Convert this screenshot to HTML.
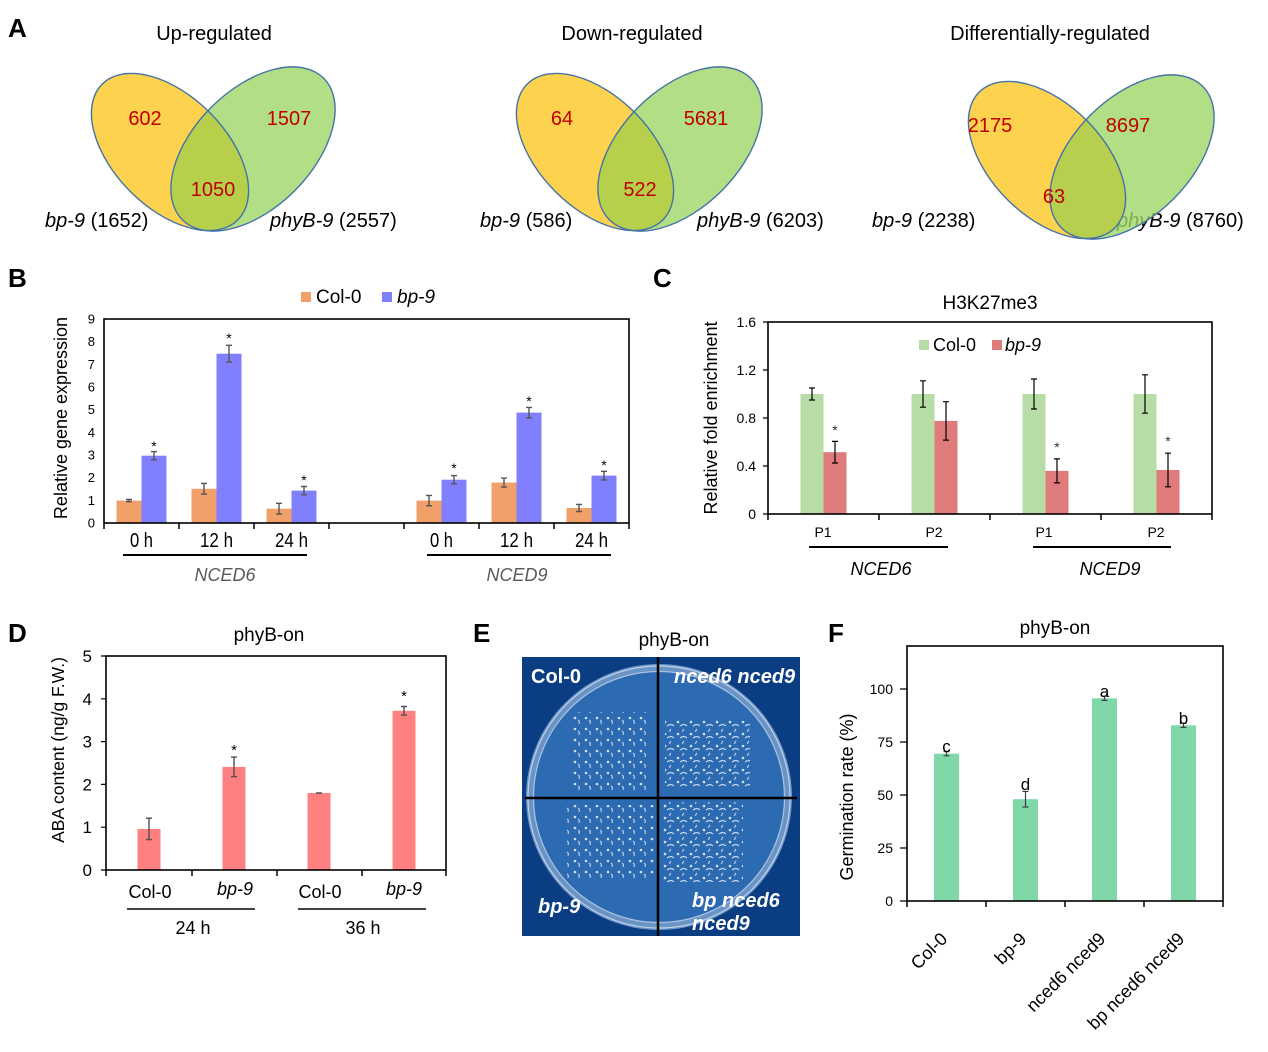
<!DOCTYPE html>
<html><head><meta charset="utf-8"><style>
html,body{margin:0;padding:0;background:#fff}
svg{display:block}
text{font-family:"Liberation Sans",Arial,sans-serif}
</style></head><body>
<svg width="1268" height="1052" viewBox="0 0 1268 1052" xmlns="http://www.w3.org/2000/svg">
<defs>
<clipPath id="cu"><ellipse cx="170" cy="152" rx="96" ry="56" transform="rotate(45 170 152)"/></clipPath>
<clipPath id="cd"><ellipse cx="595" cy="152" rx="96" ry="56" transform="rotate(45 595 152)"/></clipPath>
<clipPath id="cf"><ellipse cx="1047" cy="160" rx="96" ry="56" transform="rotate(45 1047 160)"/></clipPath>
<clipPath id="ph"><rect x="522" y="657" width="278" height="279"/></clipPath>
<pattern id="s1" width="11" height="11" patternUnits="userSpaceOnUse"><circle cx="3" cy="3" r="1.3" fill="#e3ebf4"/><path d="M6 5q2 1 1 4" stroke="#d6e2ee" stroke-width="1.1" fill="none"/></pattern>
<pattern id="s2" width="13" height="12" patternUnits="userSpaceOnUse"><circle cx="2" cy="2" r="1.3" fill="#e3ebf4"/><path d="M4 6q4-3 7 0M8 9q-2 2-1 3" stroke="#d6e2ee" stroke-width="1.1" fill="none"/></pattern>
</defs>
<rect width="1268" height="1052" fill="#fff"/>

<!-- Panel labels -->
<g font-weight="bold" font-size="26" fill="#000">
<text x="8" y="37">A</text>
<text x="8" y="287">B</text>
<text x="653" y="287">C</text>
<text x="8" y="642">D</text>
<text x="473" y="642">E</text>
<text x="828" y="642">F</text>
</g>

<!-- Panel A: Venn diagrams -->
<g font-size="20" text-anchor="middle">
<text x="214" y="40">Up-regulated</text>
<text x="632" y="40">Down-regulated</text>
<text x="1050" y="40">Differentially-regulated</text>
</g>
<!-- Up -->
<ellipse cx="170" cy="152" rx="96" ry="56" transform="rotate(45 170 152)" fill="#FDD24E"/>
<ellipse cx="253" cy="149" rx="100" ry="59" transform="rotate(-45 253 149)" fill="#B2DF86"/>
<g clip-path="url(#cu)"><ellipse cx="253" cy="149" rx="100" ry="59" transform="rotate(-45 253 149)" fill="#B6D04C"/></g>
<ellipse cx="170" cy="152" rx="96" ry="56" transform="rotate(45 170 152)" fill="none" stroke="#4472A8" stroke-width="1.4"/>
<ellipse cx="253" cy="149" rx="100" ry="59" transform="rotate(-45 253 149)" fill="none" stroke="#4472A8" stroke-width="1.4"/>
<!-- Down -->
<ellipse cx="595" cy="152" rx="96" ry="56" transform="rotate(45 595 152)" fill="#FDD24E"/>
<ellipse cx="680" cy="149" rx="100" ry="59" transform="rotate(-45 680 149)" fill="#B2DF86"/>
<g clip-path="url(#cd)"><ellipse cx="680" cy="149" rx="100" ry="59" transform="rotate(-45 680 149)" fill="#B6D04C"/></g>
<ellipse cx="595" cy="152" rx="96" ry="56" transform="rotate(45 595 152)" fill="none" stroke="#4472A8" stroke-width="1.4"/>
<ellipse cx="680" cy="149" rx="100" ry="59" transform="rotate(-45 680 149)" fill="none" stroke="#4472A8" stroke-width="1.4"/>
<!-- Diff -->
<ellipse cx="1047" cy="160" rx="96" ry="56" transform="rotate(45 1047 160)" fill="#FDD24E"/>
<text x="1117" y="227" font-size="20"><tspan font-style="italic">phyB-9</tspan> (8760)</text>
<ellipse cx="1132" cy="157" rx="100" ry="59" transform="rotate(-45 1132 157)" fill="#9FD768" fill-opacity="0.8"/>
<g clip-path="url(#cf)"><ellipse cx="1132" cy="157" rx="100" ry="59" transform="rotate(-45 1132 157)" fill="#B6CE4C" fill-opacity="0.92"/></g>
<ellipse cx="1047" cy="160" rx="96" ry="56" transform="rotate(45 1047 160)" fill="none" stroke="#4472A8" stroke-width="1.4"/>
<ellipse cx="1132" cy="157" rx="100" ry="59" transform="rotate(-45 1132 157)" fill="none" stroke="#4472A8" stroke-width="1.4"/>

<g font-size="20" fill="#C00000" text-anchor="middle">
<text x="145" y="125">602</text>
<text x="289" y="125">1507</text>
<text x="213" y="196">1050</text>
<text x="562" y="125">64</text>
<text x="706" y="125">5681</text>
<text x="640" y="196">522</text>
<text x="990" y="132">2175</text>
<text x="1128" y="132">8697</text>
<text x="1054" y="203">63</text>
</g>
<g font-size="20">
<text x="45" y="227"><tspan font-style="italic">bp-9</tspan> (1652)</text>
<text x="270" y="227"><tspan font-style="italic">phyB-9</tspan> (2557)</text>
<text x="480" y="227"><tspan font-style="italic">bp-9</tspan> (586)</text>
<text x="697" y="227"><tspan font-style="italic">phyB-9</tspan> (6203)</text>
<text x="872" y="227"><tspan font-style="italic">bp-9</tspan> (2238)</text>
</g>

<!-- Panel B -->
<rect x="301" y="292" width="10" height="10" fill="#F2A06A"/>
<text x="316" y="303" font-size="19">Col-0</text>
<rect x="382" y="292" width="10" height="10" fill="#8080FF"/>
<text x="397" y="303" font-size="19" font-style="italic">bp-9</text>
<text transform="translate(67,418) rotate(-90)" text-anchor="middle" font-size="18">Relative gene expression</text>
<g font-size="13" text-anchor="end">
<text x="95" y="527.5">0</text>
<text x="95" y="504.8">1</text>
<text x="95" y="482.2">2</text>
<text x="95" y="459.5">3</text>
<text x="95" y="436.8">4</text>
<text x="95" y="414.2">5</text>
<text x="95" y="391.5">6</text>
<text x="95" y="368.8">7</text>
<text x="95" y="346.2">8</text>
<text x="95" y="323.5">9</text>
</g>
<g fill="#F2A06A">
<rect x="116.5" y="500.6" width="25" height="22.4"/>
<rect x="191.5" y="488.8" width="25" height="34.2"/>
<rect x="266.5" y="508.7" width="25" height="14.3"/>
<rect x="416.5" y="500.6" width="25" height="22.4"/>
<rect x="491.5" y="482.6" width="25" height="40.4"/>
<rect x="566.5" y="508" width="25" height="15"/>
</g>
<g fill="#8080FF">
<rect x="141.5" y="455.7" width="25" height="67.3"/>
<rect x="216.5" y="353.7" width="25" height="169.3"/>
<rect x="291.5" y="490.6" width="25" height="32.4"/>
<rect x="441.5" y="479.7" width="25" height="43.3"/>
<rect x="516.5" y="412.6" width="25" height="110.4"/>
<rect x="591.5" y="475.6" width="25" height="47.4"/>
</g>
<path fill="none" stroke="#555" stroke-width="1.4" d="
M129 499.5V501.7M126 499.5H132M126 501.7H132
M154 451.6V459.8M151 451.6H157M151 459.8H157
M204 483.4V494.2M201 483.4H207M201 494.2H207
M229 345.3V362.1M226 345.3H232M226 362.1H232
M279 503.3V514.1M276 503.3H282M276 514.1H282
M304 486.5V494.7M301 486.5H307M301 494.7H307
M429 495.4V505.8M426 495.4H432M426 505.8H432
M454 475.6V483.8M451 475.6H457M451 483.8H457
M504 478.1V487.1M501 478.1H507M501 487.1H507
M529 407.4V417.8M526 407.4H532M526 417.8H532
M579 504.4V511.6M576 504.4H582M576 511.6H582
M604 471.3V479.9M601 471.3H607M601 479.9H607"/>
<rect x="104" y="319" width="525" height="204" fill="none" stroke="#000" stroke-width="1.6"/>
<path stroke="#000" stroke-width="1.5" d="M104 523V529M179 523V529M254 523V529M329 523V529M404 523V529M479 523V529M554 523V529M629 523V529"/>
<g font-size="14" text-anchor="middle">
<text x="154" y="451">*</text>
<text x="229" y="343">*</text>
<text x="304" y="485">*</text>
<text x="454" y="473">*</text>
<text x="529" y="406">*</text>
<text x="604" y="470">*</text>
</g>
<g font-size="20" text-anchor="middle">
<text x="141.5" y="547" textLength="23" lengthAdjust="spacingAndGlyphs">0 h</text>
<text x="216.5" y="547" textLength="33" lengthAdjust="spacingAndGlyphs">12 h</text>
<text x="291.5" y="547" textLength="33" lengthAdjust="spacingAndGlyphs">24 h</text>
<text x="441.5" y="547" textLength="23" lengthAdjust="spacingAndGlyphs">0 h</text>
<text x="516.5" y="547" textLength="33" lengthAdjust="spacingAndGlyphs">12 h</text>
<text x="591.5" y="547" textLength="33" lengthAdjust="spacingAndGlyphs">24 h</text>
</g>
<path stroke="#000" stroke-width="2" d="M123 555H307M427 555H611"/>
<g font-size="18" font-style="italic" fill="#595959" text-anchor="middle">
<text x="225" y="581">NCED6</text>
<text x="517" y="581">NCED9</text>
</g>

<!-- Panel C -->
<text x="990" y="309" font-size="19" text-anchor="middle">H3K27me3</text>
<text transform="translate(717,418) rotate(-90)" text-anchor="middle" font-size="18">Relative fold enrichment</text>
<g font-size="14" text-anchor="end">
<text x="756" y="327">1.6</text>
<text x="756" y="375">1.2</text>
<text x="756" y="423">0.8</text>
<text x="756" y="471">0.4</text>
<text x="756" y="519">0</text>
</g>
<path stroke="#000" stroke-width="1.2" d="M763 322H768M763 370H768M763 418H768M763 466H768M763 514H768"/>
<g fill="#B8DCA5">
<rect x="800.5" y="394" width="23" height="120"/>
<rect x="911.5" y="394" width="23" height="120"/>
<rect x="1022.5" y="394" width="23" height="120"/>
<rect x="1133.5" y="394" width="23" height="120"/>
</g>
<g fill="#E07B7B">
<rect x="823.5" y="452.2" width="23" height="61.8"/>
<rect x="934.5" y="420.9" width="23" height="93.1"/>
<rect x="1045.5" y="470.9" width="23" height="43.1"/>
<rect x="1156.5" y="470" width="23" height="44"/>
</g>
<path fill="none" stroke="#000" stroke-width="1.2" d="
M812 388V400M809 388H815M809 400H815
M923 380.8V407.2M920 380.8H926M920 407.2H926
M1034 379V409M1031 379H1037M1031 409H1037
M1145 374.8V413.2M1142 374.8H1148M1142 413.2H1148
M835 441.4V463M832 441.4H838M832 463H838
M946 401.7V440.1M943 401.7H949M943 440.1H949
M1057 458.9V482.9M1054 458.9H1060M1054 482.9H1060
M1168 453.2V486.8M1165 453.2H1171M1165 486.8H1171"/>
<rect x="768" y="322" width="444" height="192" fill="none" stroke="#000" stroke-width="1.6"/>
<path stroke="#000" stroke-width="1.5" d="M768 514V520M879 514V520M990 514V520M1101 514V520M1212 514V520"/>
<g font-size="14" text-anchor="middle" fill="#333">
<text x="835" y="435">*</text>
<text x="1057" y="452">*</text>
<text x="1168" y="446">*</text>
</g>
<rect x="919" y="340" width="10" height="10" fill="#B8DCA5"/>
<text x="933" y="351" font-size="18">Col-0</text>
<rect x="992" y="340" width="10" height="10" fill="#E07B7B"/>
<text x="1005" y="351" font-size="18" font-style="italic">bp-9</text>
<g font-size="14" text-anchor="middle">
<text x="823" y="537">P1</text>
<text x="934" y="537">P2</text>
<text x="1044" y="537">P1</text>
<text x="1156" y="537">P2</text>
</g>
<path stroke="#000" stroke-width="2" d="M809 547H948M1033 547H1171"/>
<g font-size="18" font-style="italic" text-anchor="middle">
<text x="881" y="575">NCED6</text>
<text x="1110" y="575">NCED9</text>
</g>

<!-- Panel D -->
<text x="269" y="641" font-size="19" text-anchor="middle">phyB-on</text>
<text transform="translate(64,750) rotate(-90)" text-anchor="middle" font-size="17.5">ABA content (ng/g F.W.)</text>
<g font-size="17" text-anchor="end">
<text x="92" y="876">0</text>
<text x="92" y="833.2">1</text>
<text x="92" y="790.4">2</text>
<text x="92" y="747.6">3</text>
<text x="92" y="704.8">4</text>
<text x="92" y="662">5</text>
</g>
<path stroke="#000" stroke-width="1.2" d="M101 870H106M101 827.2H106M101 784.4H106M101 741.6H106M101 698.8H106M101 656H106"/>
<g fill="#FF8080">
<rect x="137.5" y="828.9" width="23" height="41.1"/>
<rect x="222.5" y="766.9" width="23" height="103.1"/>
<rect x="307.5" y="793" width="23" height="77"/>
<rect x="392.5" y="710.8" width="23" height="159.2"/>
</g>
<path fill="none" stroke="#505050" stroke-width="1.4" d="
M149 818.2V839.6M146 818.2H152M146 839.6H152
M234 757.1V776.7M231 757.1H237M231 776.7H237
M316 793H322
M404 706.5V715.1M401 706.5H407M401 715.1H407"/>
<rect x="106" y="656" width="340" height="214" fill="none" stroke="#000" stroke-width="1.6"/>
<path stroke="#000" stroke-width="1.5" d="M106 870V876M192 870V876M277 870V876M362 870V876M446 870V876"/>
<g font-size="15" text-anchor="middle">
<text x="234" y="755">*</text>
<text x="404" y="701">*</text>
</g>
<g font-size="18" text-anchor="middle">
<text x="150" y="898">Col-0</text>
<text x="235" y="895" font-style="italic">bp-9</text>
<text x="320" y="898">Col-0</text>
<text x="404" y="895" font-style="italic">bp-9</text>
<text x="193" y="934">24 h</text>
<text x="363" y="934">36 h</text>
</g>
<path stroke="#444" stroke-width="2" d="M127 909H255M298 909H426"/>

<!-- Panel E -->
<text x="674" y="646" font-size="19" text-anchor="middle">phyB-on</text>
<g clip-path="url(#ph)">
<rect x="522" y="657" width="278" height="279" fill="#0A3D82"/>
<circle cx="659" cy="797" r="133" fill="#6A94C6"/>
<circle cx="659" cy="797" r="131" fill="none" stroke="#cfdcec" stroke-width="1.2" opacity="0.85"/>
<circle cx="659" cy="797" r="125" fill="#2C6AB2"/>
<circle cx="659" cy="797" r="125.5" fill="none" stroke="#a9c3e0" stroke-width="1.2"/>
<rect x="572" y="712" width="78" height="78" fill="url(#s1)" opacity="0.9"/>
<rect x="665" y="720" width="85" height="68" fill="url(#s2)" opacity="0.9"/>
<rect x="567" y="805" width="88" height="73" fill="url(#s1)" opacity="0.9"/>
<rect x="663" y="802" width="80" height="80" fill="url(#s2)" opacity="0.9"/>
<path stroke="#000" stroke-width="2.5" d="M658 657V936M525 798H797"/>
<g fill="#fff" font-weight="bold" font-size="20">
<text x="531" y="683">Col-0</text>
<text x="674" y="683" font-style="italic">nced6 nced9</text>
<text x="538" y="913" font-style="italic">bp-9</text>
<text x="692" y="907" font-style="italic">bp nced6</text>
<text x="692" y="930" font-style="italic">nced9</text>
</g>
</g>

<!-- Panel F -->
<text x="1055" y="634" font-size="19" text-anchor="middle">phyB-on</text>
<text transform="translate(853,797) rotate(-90)" text-anchor="middle" font-size="18">Germination rate (%)</text>
<g font-size="14" text-anchor="end">
<text x="893" y="694">100</text>
<text x="893" y="747">75</text>
<text x="893" y="800">50</text>
<text x="893" y="853">25</text>
<text x="893" y="906">0</text>
</g>
<path stroke="#000" stroke-width="1.2" d="M900 689H907M900 742H907M900 795H907M900 848H907M900 901H907"/>
<g fill="#80D8A8">
<rect x="934" y="753.7" width="25" height="147.3"/>
<rect x="1013" y="799.2" width="25" height="101.8"/>
<rect x="1092" y="698.3" width="25" height="202.7"/>
<rect x="1171" y="725.3" width="25" height="175.7"/>
</g>
<path fill="none" stroke="#404040" stroke-width="1.2" d="
M946.5 751.6V755.8M943.5 751.6H949.5M943.5 755.8H949.5
M1025.5 791.4V807M1022.5 791.4H1028.5M1022.5 807H1028.5
M1104.5 696.2V700.4M1101.5 696.2H1107.5M1101.5 700.4H1107.5
M1183.5 723.2V727.4M1180.5 723.2H1186.5M1180.5 727.4H1186.5"/>
<rect x="907" y="646" width="316" height="255" fill="none" stroke="#000" stroke-width="1.6"/>
<path stroke="#000" stroke-width="1.5" d="M907 901V907M986 901V907M1065 901V907M1144 901V907M1223 901V907"/>
<g font-size="17" text-anchor="middle">
<text x="946.5" y="752">c</text>
<text x="1025.5" y="790">d</text>
<text x="1104.5" y="697">a</text>
<text x="1183.5" y="724">b</text>
</g>
<g font-size="18" text-anchor="end">
<text transform="translate(948.5,940) rotate(-45)">Col-0</text>
<text transform="translate(1027.5,940) rotate(-45)">bp-9</text>
<text transform="translate(1106.5,940) rotate(-45)">nced6 nced9</text>
<text transform="translate(1185.5,940) rotate(-45)">bp nced6 nced9</text>
</g>
</svg>
</body></html>
